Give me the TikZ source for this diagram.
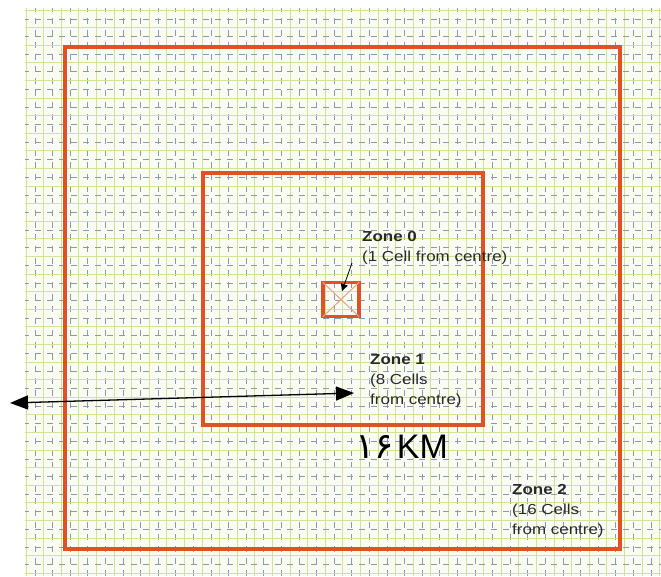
\documentclass[tikz,border=0pt]{standalone}
\usepackage{fontspec}
\setmainfont{Liberation Sans}
\newfontfamily\labelfont[FakeStretch=1.17]{Liberation Sans}
\newfontfamily\arabicfont[Script=Arabic]{DejaVu Sans}
\usetikzlibrary{arrows.meta}
\definecolor{paper}{RGB}{250,252,242}
\definecolor{gridgreen}{RGB}{208,228,150}
\definecolor{gridblue}{RGB}{135,155,175}
\definecolor{zonered}{RGB}{224,82,38}
\definecolor{crossred}{RGB}{240,160,125}
\definecolor{labelgray}{RGB}{40,40,40}

\begin{document}
\begin{tikzpicture}[x=1pt,y=-1pt,
	gridline/.style={draw=gridgreen,line width=1pt},
	gridbreak/.style={draw=gridblue,line width=0.6pt,dash pattern=on 6pt off 6pt,dash phase=2pt},
	zonebox/.style={draw=zonered,line width=4pt,inner sep=0pt},
	zonelabel/.style={font=\labelfont\fontsize{14.5}{20}\selectfont,text=labelgray,align=left,anchor=north west,inner sep=0pt}]
			\useasboundingbox (0,0) rectangle (661,576);
			
			% Grid paper
			\fill[paper] (25,8) rectangle (661,576);
			\begin{scope}
				\clip (25,8) rectangle (661,576);
				\foreach \i in {0,...,36} {
					\draw[gridline] (26+17.6*\i,8) -- (26+17.6*\i,576);
					\draw[gridbreak] (34.8+17.6*\i,8) -- (34.8+17.6*\i,576);
				}
				\foreach \i in {0,...,33} {
					\draw[gridline] (25,10+17.6*\i) -- (661,10+17.6*\i);
					\draw[gridbreak] (25,18.8+17.6*\i) -- (661,18.8+17.6*\i);
				}
			\end{scope}
			
			% Zones
			\node[zonebox,minimum width=555pt,minimum height=502pt] (zone2) at (342.5,298) {};
			\node[zonebox,minimum width=280pt,minimum height=252pt] (zone1) at (343,299) {};
			\node[zonebox,line width=3.5pt,minimum width=36pt,minimum height=34pt] (zone0) at (341,299.5) {};
			\draw[crossred,line width=1pt,shorten <=2pt,shorten >=2pt] (zone0.north west) -- (zone0.south east);
			\draw[crossred,line width=1pt,shorten <=2pt,shorten >=2pt] (zone0.north east) -- (zone0.south west);
			
			% Labels
			\node[zonelabel] (z0label) at (362,231) {\textbf{Zone 0}\\(1 Cell from centre)};
			\node[zonelabel] (z1label) at (370,354) {\textbf{Zone 1}\\(8 Cells\\from centre)};
			\node[zonelabel] (z2label) at (512,484) {\textbf{Zone 2}\\(16 Cells\\from centre)};
			\node[font=\fontsize{34}{34}\selectfont,anchor=base west,inner sep=0pt] (km) at (355,458) {{\arabicfont\fontsize{36}{36}\selectfont ۱۶}\kern3pt KM};
			
			% Arrows
			\coordinate (z0tail) at (352,263);
			\coordinate (z0tip) at (342,291);
			\draw[-{Triangle[length=7pt,width=7pt]},line width=0.8pt] (z0tail) -- (z0tip);
			\coordinate (kmL) at (10,403);
			\coordinate (kmR) at (354,393);
			\draw[{Triangle[length=18pt,width=14pt]}-{Triangle[length=18pt,width=14pt]},line width=1.3pt] (kmL) -- (kmR);
		\end{tikzpicture}
\end{document}
